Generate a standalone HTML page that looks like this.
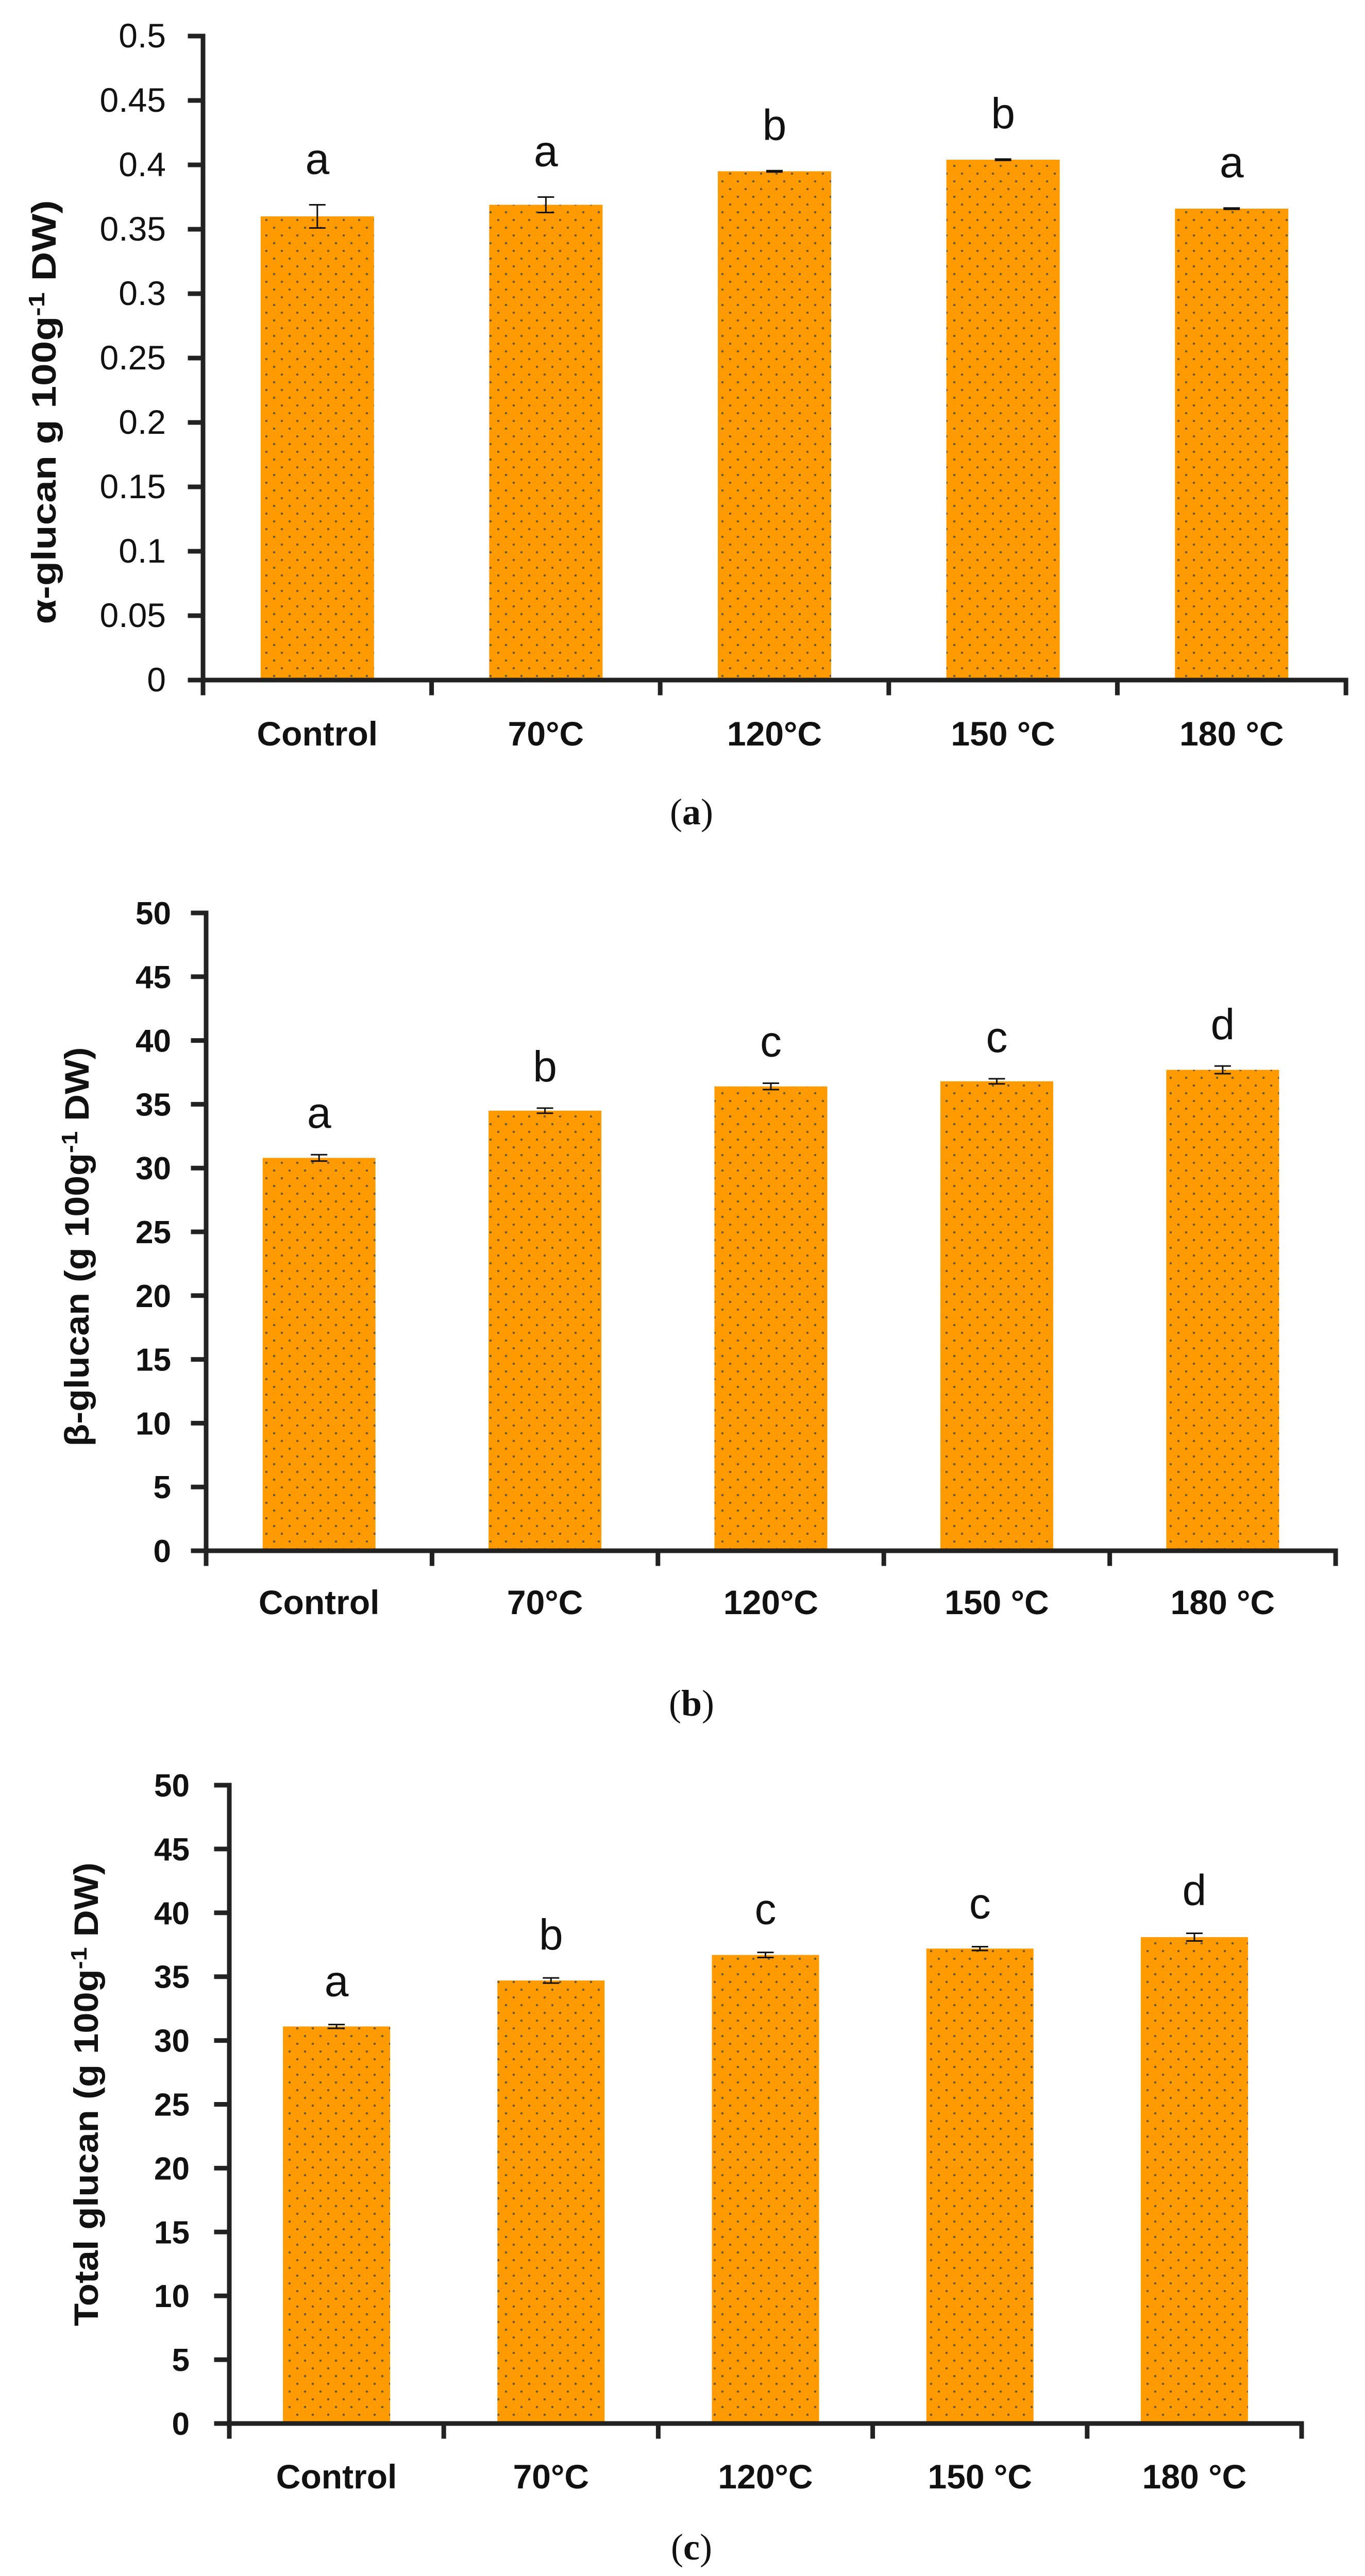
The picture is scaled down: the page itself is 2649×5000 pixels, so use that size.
<!DOCTYPE html>
<html><head><meta charset="utf-8"><style>
html,body{margin:0;padding:0;background:#fff;}
svg{display:block;}
text{font-family:"Liberation Sans",sans-serif;fill:#111;}
</style></head><body>
<svg id="fig" width="2649" height="5000" viewBox="0 0 2649 5000" xmlns="http://www.w3.org/2000/svg">
<defs>
<pattern id="dots" patternUnits="userSpaceOnUse" width="30" height="30">
<rect width="30" height="30" fill="#FF9A00"/>
<circle cx="7" cy="7" r="2.3" fill="#6b5a3a"/>
<circle cx="22" cy="22" r="2.3" fill="#6b5a3a"/>
</pattern>
</defs>
</svg>
<script>
const categories = ["Control", "70°C", "120°C", "150 °C", "180 °C"];
const alphaValues = [0.360, 0.369, 0.395, 0.404, 0.366];
const alphaErrors = [0.009, 0.006, 0.0005, 0.0005, 0.0005];
const alphaLetters = ["a", "a", "b", "b", "a"];
const alphaTicks = [0, 0.05, 0.1, 0.15, 0.2, 0.25, 0.3, 0.35, 0.4, 0.45, 0.5];
const alphaTickLabels = ["0", "0.05", "0.1", "0.15", "0.2", "0.25", "0.3", "0.35", "0.4", "0.45", "0.5"];
const betaValues = [30.8, 34.5, 36.4, 36.8, 37.7];
const betaErrors = [0.25, 0.2, 0.25, 0.2, 0.3];
const betaLetters = ["a", "b", "c", "c", "d"];
const totalValues = [31.1, 34.7, 36.7, 37.2, 38.1];
const totalErrors = [0.15, 0.2, 0.2, 0.15, 0.3];
const totalLetters = ["a", "b", "c", "c", "d"];
const glucanTicks = [0, 5, 10, 15, 20, 25, 30, 35, 40, 45, 50];
const glucanTickLabels = ["0", "5", "10", "15", "20", "25", "30", "35", "40", "45", "50"];

const NS = "http://www.w3.org/2000/svg";
const svg = document.getElementById("fig");
function mk(tag, attrs, parent) {
  const e = document.createElementNS(NS, tag);
  for (const k in attrs) e.setAttribute(k, attrs[k]);
  (parent || svg).appendChild(e);
  return e;
}

function drawChart(cfg) {
  const g = mk("g", {});
  
  
  const yScale = v => cfg.y0 - (v - cfg.min) / (cfg.max - cfg.min) * (cfg.y0 - cfg.yTop);
  const catW = (cfg.xEnd - cfg.x0) / cfg.cats.length;
  const xCenter = i => cfg.x0 + catW * (i + 0.5);

  cfg.values.forEach((v, i) => {
    const top = yScale(v);
    const b = mk("rect", {x: xCenter(i) - cfg.barW / 2, y: top, width: cfg.barW, height: cfg.y0 - top, fill: "url(#dots)"}, g);
    
    
    const e = cfg.errors[i];
    const eg = mk("g", {stroke: "#111", "stroke-width": 3}, g);
    
    
    const yt = yScale(v + e), yb = yScale(v - e), cx = xCenter(i);
    mk("line", {x1: cx, x2: cx, y1: yt, y2: yb}, eg);
    mk("line", {x1: cx - 16, x2: cx + 16, y1: yt, y2: yt}, eg);
    mk("line", {x1: cx - 16, x2: cx + 16, y1: yb, y2: yb}, eg);
    const t = mk("text", {x: cx, y: yt - cfg.letterGap, "text-anchor": "middle", "font-size": 84}, g);
    t.textContent = cfg.letters[i];
    
    
  });

  const ax = mk("g", {stroke: "#222", "stroke-width": 9, "stroke-linecap": "square", fill: "none"}, g);
  
  
  mk("line", {x1: cfg.x0, x2: cfg.x0, y1: cfg.yTop, y2: cfg.y0 + 25}, ax);
  mk("line", {x1: cfg.x0, x2: cfg.xEnd, y1: cfg.y0, y2: cfg.y0}, ax);
  for (let i = 1; i <= cfg.cats.length; i++) {
    const x = cfg.x0 + catW * i;
    mk("line", {x1: x, x2: x, y1: cfg.y0, y2: cfg.y0 + 25}, ax);
  }
  cfg.ticks.forEach((tv, i) => {
    const y = yScale(tv);
    mk("line", {x1: cfg.x0 - 25, x2: cfg.x0, y1: y, y2: y}, ax);
    const t = mk("text", {x: cfg.x0 - cfg.tickGap, y: y + 22, "text-anchor": "end", "font-size": cfg.tickSize, "font-weight": cfg.tickWeight}, g);
    t.textContent = cfg.tickLabels[i];
    
    
  });
  cfg.cats.forEach((c, i) => {
    const t = mk("text", {x: xCenter(i), y: cfg.xLabelY, "text-anchor": "middle", "font-size": 66, "font-weight": "bold"}, g);
    t.textContent = c;
    
    
  });
  const tt = mk("text", {transform: "translate(" + cfg.titleX + "," + cfg.titleCY + ") rotate(-90)", "text-anchor": "middle", "font-size": 66, "font-weight": "bold", textLength: cfg.titleLen, lengthAdjust: "spacingAndGlyphs"}, g);
  
  
  tt.innerHTML = cfg.titleHTML;
  const cap = mk("text", {x: 1342, y: cfg.capY, "text-anchor": "middle", "font-size": 72, style: "font-family:'Liberation Serif',serif"}, g);
  cap.innerHTML = '(<tspan font-weight="bold">' + cfg.cap + '</tspan>)';
  
  
}

drawChart({name: "chart-a-alpha-glucan", cats: categories, values: alphaValues, errors: alphaErrors, letters: alphaLetters,
  ticks: alphaTicks, tickLabels: alphaTickLabels, min: 0, max: 0.5, x0: 394, xEnd: 2612, y0: 1320, yTop: 70, barW: 220,
  letterGap: 60, tickGap: 72, tickSize: 66, tickWeight: "normal", xLabelY: 1447,
  titleX: 108, titleCY: 800, titleLen: 823, titleHTML: 'α-glucan g 100g<tspan dy="-22" font-size="44">-1</tspan><tspan dy="22"> DW)</tspan>',
  capY: 1600, cap: "a"});
drawChart({name: "chart-b-beta-glucan", cats: categories, values: betaValues, errors: betaErrors, letters: betaLetters,
  ticks: glucanTicks, tickLabels: glucanTickLabels, min: 0, max: 50, x0: 400, xEnd: 2592, y0: 3010, yTop: 1772, barW: 219,
  letterGap: 52, tickGap: 68, tickSize: 62, tickWeight: "bold", xLabelY: 3133,
  titleX: 172, titleCY: 2420, titleLen: 775, titleHTML: 'β-glucan (g 100g<tspan dy="-22" font-size="44">-1</tspan><tspan dy="22"> DW)</tspan>',
  capY: 3330, cap: "b"});
drawChart({name: "chart-c-total-glucan", cats: categories, values: totalValues, errors: totalErrors, letters: totalLetters,
  ticks: glucanTicks, tickLabels: glucanTickLabels, min: 0, max: 50, x0: 445, xEnd: 2526, y0: 4704, yTop: 3465, barW: 208,
  letterGap: 55, tickGap: 77, tickSize: 62, tickWeight: "bold", xLabelY: 4830,
  titleX: 190, titleCY: 4065, titleLen: 900, titleHTML: 'Total glucan (g 100g<tspan dy="-22" font-size="44">-1</tspan><tspan dy="22"> DW)</tspan>',
  capY: 4968, cap: "c"});
</script>
</body></html>
